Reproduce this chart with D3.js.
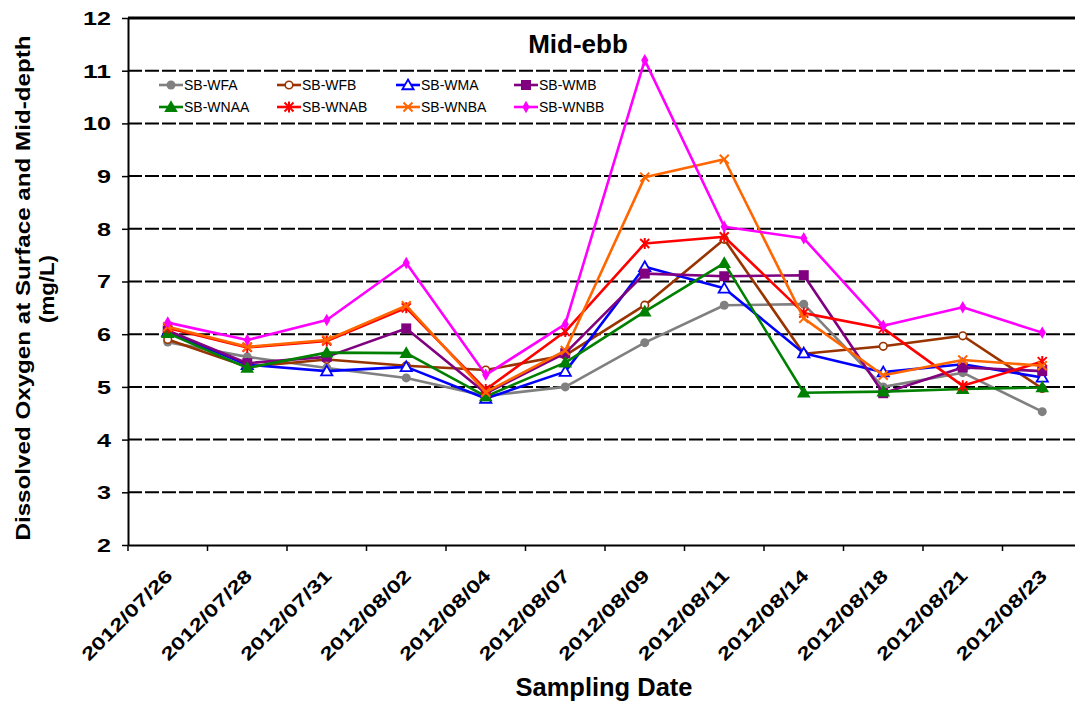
<!DOCTYPE html>
<html>
<head>
<meta charset="utf-8">
<script src="https://cdn.jsdelivr.net/npm/d3@7"></script>
<style>
  html, body { margin: 0; padding: 0; background: #fff; }
  svg { display: block; font-family: "Liberation Sans", Arial, sans-serif; }
</style>
</head>
<body>
<svg id="chart" width="1075" height="706"></svg>
<script>
const dates = ["2012/07/26","2012/07/28","2012/07/31","2012/08/02","2012/08/04","2012/08/07","2012/08/09","2012/08/11","2012/08/14","2012/08/18","2012/08/21","2012/08/23"];
const yTicks = [2,3,4,5,6,7,8,9,10,11,12];
const seriesNames = ["SB-WFA","SB-WFB","SB-WMA","SB-WMB","SB-WNAA","SB-WNAB","SB-WNBA","SB-WNBB"];
const WFA  = [5.85, 5.57, 5.36, 5.17, 4.83, 5.00, 5.84, 6.55, 6.57, 5.00, 5.27, 4.53];
const WFB  = [5.90, 5.38, 5.52, 5.40, 5.32, 5.60, 6.55, 7.80, 5.63, 5.77, 5.97, 4.97];
const WMA  = [6.05, 5.42, 5.30, 5.38, 4.78, 5.29, 7.28, 6.87, 5.64, 5.28, 5.43, 5.18];
const WMB  = [6.07, 5.45, 5.57, 6.11, 4.88, 5.64, 7.15, 7.10, 7.12, 4.88, 5.37, 5.30];
const WNAA = [6.02, 5.36, 5.65, 5.64, 4.82, 5.46, 6.43, 7.35, 4.89, 4.91, 4.96, 4.99];
const WNAB = [6.12, 5.75, 5.87, 6.50, 4.95, 6.05, 7.72, 7.85, 6.40, 6.11, 5.02, 5.48];
const WNBA = [6.14, 5.76, 5.89, 6.54, 4.90, 5.69, 8.98, 9.32, 6.30, 5.22, 5.51, 5.40];
const WNBB = [6.22, 5.89, 6.27, 7.35, 5.23, 6.19, 11.20, 8.04, 7.82, 6.16, 6.51, 6.03];
const seriesValues = [WFA, WFB, WMA, WMB, WNAA, WNAB, WNBA, WNBB];
const colors = ["#808080","#993300","#0000FF","#800080","#008000","#FF0000","#FF6600","#FF00FF"];
const markers = ["circle","ocircle","otriangle","square","triangle","star","x","diamond"];

(function () {
const svg = d3.select("#chart");
const pLeft = 128, pRight = 1082, pTop = 18, pBottom = 545;
const x = d3.scaleBand().domain(dates).range([pLeft, pRight]).paddingInner(0).paddingOuter(0);
const y = d3.scaleLinear().domain([2, 12]).range([pBottom, pTop]);
const cx = d => x(d) + x.bandwidth() / 2;

// gridlines
svg.append("g").selectAll("line").data(yTicks.filter(t => t > 2 && t < 12)).join("line")
  .attr("x1", pLeft).attr("x2", pRight).attr("y1", d => y(d)).attr("y2", d => y(d))
  .attr("stroke", "#000").attr("stroke-width", 2).attr("stroke-dasharray", "14,3");
// top border
svg.append("line").attr("x1", pLeft).attr("x2", pRight).attr("y1", y(12)).attr("y2", y(12))
  .attr("stroke", "#000").attr("stroke-width", 3);

// axes
const yAxis = svg.append("g").attr("transform", `translate(${pLeft},0)`)
  .call(d3.axisLeft(y).tickValues(yTicks).tickSize(6).tickSizeOuter(0).tickFormat(d3.format("d")));
yAxis.select(".domain").attr("stroke-width", 2);
yAxis.selectAll(".tick line").attr("stroke-width", 1.5);
yAxis.selectAll(".tick text").attr("x", -17).attr("dy", "0.36em")
  .style("font-family", "'Liberation Sans', Arial, sans-serif").style("font-size", "18px").style("font-weight", "bold")
  .attr("fill", "#000")
  .attr("textLength", d => String(d).length * 14).attr("lengthAdjust", "spacingAndGlyphs");

const xAxis = svg.append("g").attr("transform", `translate(0,${pBottom})`)
  .call(d3.axisBottom(x).tickSize(0).tickSizeOuter(0));
xAxis.select(".domain").attr("stroke-width", 2);
xAxis.selectAll(".tick text")
  .style("font-family", "'Liberation Sans', Arial, sans-serif").style("font-size", "18px").style("font-weight", "bold")
  .attr("fill", "#000")
  .attr("text-anchor", "end")
  .attr("transform", "translate(6,32) rotate(-45)")
  .attr("x", 0).attr("y", 0).attr("dy", 0)
  .attr("textLength", 120).attr("lengthAdjust", "spacingAndGlyphs");
// band boundary ticks
svg.append("g").selectAll("line").data(dates).join("line")
  .attr("x1", d => x(d)).attr("x2", d => x(d)).attr("y1", pBottom).attr("y2", pBottom + 6)
  .attr("stroke", "#000").attr("stroke-width", 1.5);

// marker drawing
function drawMarker(g, type, color, px, py) {
  const s = 4.5;
  if (type === "circle") {
    g.append("circle").attr("cx", px).attr("cy", py).attr("r", 4.5).attr("fill", color);
  } else if (type === "ocircle") {
    g.append("circle").attr("cx", px).attr("cy", py).attr("r", 3.8).attr("fill", "#fff").attr("stroke", color).attr("stroke-width", 1.6);
  } else if (type === "otriangle") {
    g.append("path").attr("d", d3.symbol(d3.symbolTriangle, 55)()).attr("transform", `translate(${px},${py + 1})`)
      .attr("fill", "#fff").attr("stroke", color).attr("stroke-width", 1.8);
  } else if (type === "triangle") {
    g.append("path").attr("d", d3.symbol(d3.symbolTriangle, 80)()).attr("transform", `translate(${px},${py + 1})`)
      .attr("fill", color);
  } else if (type === "square") {
    g.append("rect").attr("x", px - 5).attr("y", py - 5).attr("width", 10).attr("height", 10).attr("fill", color);
  } else if (type === "diamond") {
    g.append("path").attr("d", d3.symbol(d3.symbolDiamond, 45)()).attr("transform", `translate(${px},${py})`)
      .attr("fill", color);
  } else if (type === "x") {
    g.append("path").attr("d", `M${px - s},${py - s}L${px + s},${py + s}M${px - s},${py + s}L${px + s},${py - s}`)
      .attr("stroke", color).attr("stroke-width", 2);
  } else if (type === "star") {
    g.append("path").attr("d", `M${px - s},${py - s}L${px + s},${py + s}M${px - s},${py + s}L${px + s},${py - s}M${px},${py - s - 1}L${px},${py + s + 1}`)
      .attr("stroke", color).attr("stroke-width", 2);
  }
}

// series
const line = d3.line().x((d, i) => cx(dates[i])).y(d => y(d));
seriesValues.forEach((vals, si) => {
  const g = svg.append("g");
  g.append("path").datum(vals).attr("d", line).attr("fill", "none")
    .attr("stroke", colors[si]).attr("stroke-width", 2.6).attr("stroke-linejoin", "round");
  vals.forEach((v, i) => drawMarker(g, markers[si], colors[si], cx(dates[i]), y(v)));
});

// legend
const legX = [159, 277, 396, 514];
const legY = [85, 107];
seriesNames.forEach((name, i) => {
  const col = i % 4, row = Math.floor(i / 4);
  const g = svg.append("g");
  const lx = legX[col], ly = legY[row];
  g.append("line").attr("x1", lx).attr("x2", lx + 24).attr("y1", ly).attr("y2", ly)
    .attr("stroke", colors[i]).attr("stroke-width", 2.6);
  drawMarker(g, markers[i], colors[i], lx + 12, ly);
  g.append("text").attr("x", lx + 25).attr("y", ly + 5).text(name)
    .style("font-size", "14px").attr("fill", "#000");
});

// title
svg.append("text").attr("x", 578).attr("y", 53).attr("text-anchor", "middle")
  .style("font-size", "26px").style("font-weight", "bold").text("Mid-ebb");

// axis titles
svg.append("text").attr("x", 604).attr("y", 696).attr("text-anchor", "middle")
  .style("font-size", "25px").style("font-weight", "bold")
  .attr("textLength", 177).attr("lengthAdjust", "spacingAndGlyphs").text("Sampling Date");

svg.append("text").attr("transform", "translate(30,288) rotate(-90)").attr("text-anchor", "middle")
  .style("font-size", "20px").style("font-weight", "bold")
  .attr("textLength", 505).attr("lengthAdjust", "spacingAndGlyphs")
  .text("Dissolved Oxygen at Surface and Mid-depth");
svg.append("text").attr("transform", "translate(54,289) rotate(-90)").attr("text-anchor", "middle")
  .style("font-size", "20px").style("font-weight", "bold")
  .attr("textLength", 68).attr("lengthAdjust", "spacingAndGlyphs")
  .text("(mg/L)");
})();
</script>
</body>
</html>
